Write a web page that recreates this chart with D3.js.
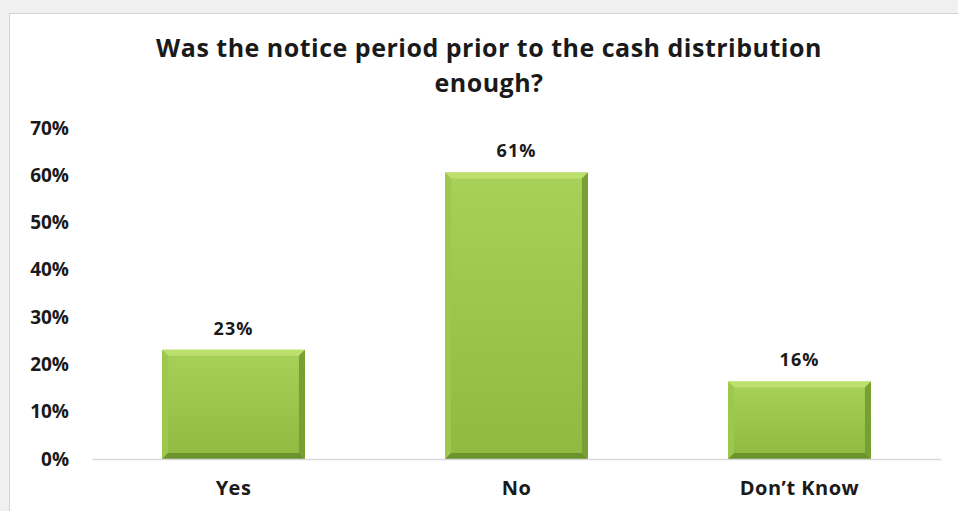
<!DOCTYPE html>
<html>
<head>
<meta charset="utf-8">
<script src="https://cdn.jsdelivr.net/npm/d3@7"></script>
<style>
  body { margin: 0; background: #f0f0f0; }
  svg { display: block; }
  text { font-family: "Open Sans", sans-serif; font-weight: bold; fill: #1a1a1a; }
</style>
</head>
<body>
<div id="canvas"></div>
<script>
const categories = ["Yes", "No", "Don\u2019t Know"];
const shares = [0.231, 0.606, 0.164];
const yTicks = [0, 0.1, 0.2, 0.3, 0.4, 0.5, 0.6, 0.7];
const titleLines = ["Was the notice period prior to the cash distribution", "enough?"];

const width = 958;
const height = 511;

const svg = d3.select("#canvas").append("svg")
    .attr("width", width)
    .attr("height", height);

// chart area box (right and bottom run off the picture)
svg.append("rect")
    .attr("x", 9.5).attr("y", 13.5)
    .attr("width", 980).attr("height", 520)
    .attr("fill", "#fff")
    .attr("stroke", "#d4d4d4");

const defs = svg.append("defs");
const grad = defs.append("linearGradient")
    .attr("id", "barGrad")
    .attr("x1", 0).attr("y1", 0).attr("x2", 0).attr("y2", 1);
grad.append("stop").attr("offset", "0%").attr("stop-color", "#a7d158");
grad.append("stop").attr("offset", "100%").attr("stop-color", "#8fba42");

const x = d3.scaleBand()
    .domain(categories)
    .range([92, 941])
    .paddingInner(0.495)
    .paddingOuter(0.2475);

const y = d3.scaleLinear()
    .domain([0, 0.7])
    .range([459, 128]);

// title
svg.append("text")
    .attr("x", 489).attr("y", 57)
    .attr("text-anchor", "middle")
    .style("font-size", "25px")
    .style("letter-spacing", "0.5px")
    .selectAll("tspan").data(titleLines).enter().append("tspan")
    .attr("x", 489)
    .attr("dy", (d, i) => i === 0 ? 0 : 35)
    .text(d => d);

// y axis labels, no line
const yAxis = svg.append("g")
    .attr("transform", "translate(92,0)")
    .call(d3.axisLeft(y).tickValues(yTicks).tickFormat(d3.format(".0%")).tickSize(0).tickPadding(23));
yAxis.select(".domain").remove();
yAxis.selectAll("text").style("font-size", "19px").style("font-family", "'Open Sans', sans-serif").attr("fill", "#1a1a1a");

// bars
const bev = 6;
const bars = svg.append("g").selectAll("g").data(categories).enter().append("g");

bars.append("rect")
    .attr("x", d => x(d))
    .attr("y", (d, i) => y(shares[i]))
    .attr("width", x.bandwidth())
    .attr("height", (d, i) => y(0) - y(shares[i]))
    .attr("fill", "url(#barGrad)");

// top bevel
bars.append("polygon")
    .attr("points", (d, i) => {
        const x0 = x(d), x1 = x(d) + x.bandwidth(), t = y(shares[i]);
        return [[x0, t], [x1, t], [x1 - bev, t + bev], [x0 + bev, t + bev]].join(" ");
    })
    .attr("fill", "#bcdf6e");

// left bevel
bars.append("polygon")
    .attr("points", (d, i) => {
        const x0 = x(d), t = y(shares[i]), b = y(0);
        return [[x0, t], [x0 + bev, t + bev], [x0 + bev, b - bev], [x0, b]].join(" ");
    })
    .attr("fill", "#9cc84e");

// right bevel
bars.append("polygon")
    .attr("points", (d, i) => {
        const x1 = x(d) + x.bandwidth(), t = y(shares[i]), b = y(0);
        return [[x1, t], [x1, b], [x1 - bev, b - bev], [x1 - bev, t + bev]].join(" ");
    })
    .attr("fill", "#779f33");

// bottom bevel
bars.append("polygon")
    .attr("points", (d, i) => {
        const x0 = x(d), x1 = x(d) + x.bandwidth(), b = y(0);
        return [[x0, b], [x1, b], [x1 - bev, b - bev], [x0 + bev, b - bev]].join(" ");
    })
    .attr("fill", "#6c942e");

// x axis
const xAxis = svg.append("g")
    .attr("transform", "translate(0,459)")
    .call(d3.axisBottom(x).tickSize(0).tickPadding(22));
xAxis.select(".domain").attr("stroke", "#d9d9d9").attr("stroke-width", 1.5);
xAxis.selectAll("text")
    .style("font-size", "20px")
    .style("letter-spacing", "0.5px")
    .style("font-family", "'Open Sans', sans-serif")
    .attr("fill", "#1a1a1a");

// value labels
bars.append("text")
    .attr("x", d => x(d) + x.bandwidth() / 2)
    .attr("y", (d, i) => y(shares[i]) - 15)
    .attr("text-anchor", "middle")
    .style("font-size", "18px")
    .style("letter-spacing", "1px")
    .text((d, i) => d3.format(".0%")(shares[i]));
</script>
</body>
</html>
